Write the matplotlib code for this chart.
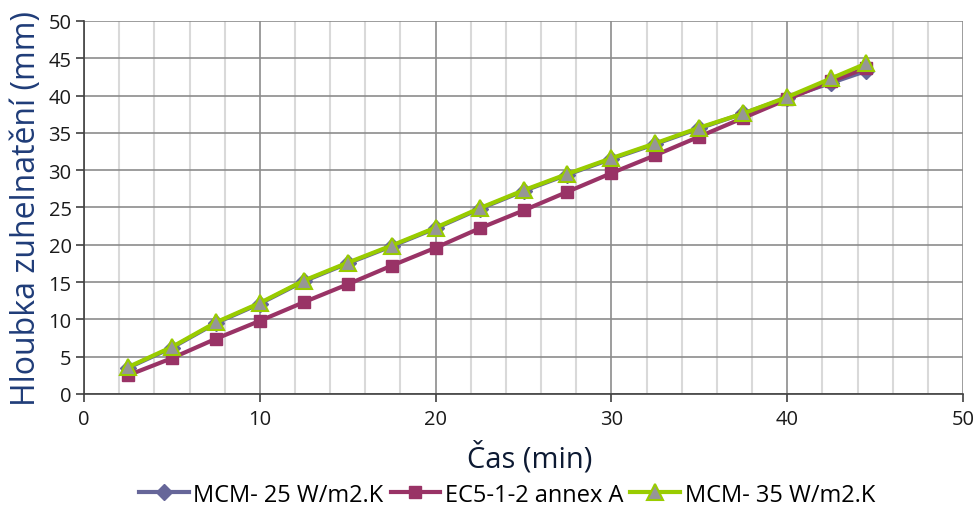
import matplotlib.pyplot as plt
from matplotlib.ticker import MultipleLocator

# charring depth over time
time_min = [2.5, 5, 7.5, 10, 12.5, 15, 17.5, 20, 22.5, 25, 27.5, 30, 32.5, 35, 37.5, 40, 42.5, 44.5]
mcm_25 = [3.5, 6.2, 9.5, 12.1, 15.1, 17.5, 19.8, 22.2, 24.8, 27.2, 29.4, 31.5, 33.5, 35.6, 37.6, 39.7, 41.7, 43.3]
ec5_annex_a = [2.5, 4.8, 7.4, 9.8, 12.3, 14.7, 17.2, 19.6, 22.2, 24.6, 27.1, 29.6, 32.0, 34.5, 37.0, 39.5, 41.9, 43.7]
mcm_35 = [3.6, 6.3, 9.6, 12.2, 15.2, 17.6, 19.9, 22.3, 24.9, 27.3, 29.5, 31.6, 33.6, 35.7, 37.6, 39.8, 42.3, 44.3]

plt.rcParams["font.family"] = ["Open Sans", "DejaVu Sans"]

fig = plt.figure(figsize=(9.77, 5.10), dpi=100)
ax = fig.add_axes([0.086, 0.2255, 0.8997, 0.7315])

ax.plot(time_min, mcm_25, color="#666699", lw=3, marker="D", ms=8,
        mfc="#666699", mec="#666699", label="MCM- 25 W/m2.K", zorder=3)
ax.plot(time_min, ec5_annex_a, color="#993366", lw=3, marker="s", ms=8,
        mfc="#993366", mec="#993366", label="EC5-1-2 annex A", zorder=4)
ax.plot(time_min, mcm_35, color="#99CC00", lw=3, marker="^", ms=11,
        mfc="#969696", mec="#99CC00", mew=1.5, label="MCM- 35 W/m2.K", zorder=5)

ax.set_xlim(0, 50)
ax.set_ylim(0, 50)
ax.xaxis.set_major_locator(MultipleLocator(10))
ax.xaxis.set_minor_locator(MultipleLocator(2))
ax.yaxis.set_major_locator(MultipleLocator(5))

ax.grid(which="minor", axis="x", color="#D9D9D9", lw=1.5, zorder=0)
ax.grid(which="major", axis="x", color="#8C8C8C", lw=1.2, zorder=1)
ax.grid(which="major", axis="y", color="#8C8C8C", lw=1.2, zorder=1)
ax.set_axisbelow(True)

for side in ("top", "right"):
    ax.spines[side].set_visible(False)
for side in ("left", "bottom"):
    ax.spines[side].set_color("#404040")
    ax.spines[side].set_linewidth(1.2)

ax.tick_params(axis="both", which="major", direction="out", length=6, width=1.2,
               color="#404040", labelsize=14.5, labelcolor="#1a1a1a")
ax.tick_params(axis="x", which="minor", length=0)
ax.tick_params(axis="y", pad=3)
ax.tick_params(axis="x", pad=5)

ax.set_xlabel("Čas (min)", fontsize=21, color="#0d1a33")
ax.xaxis.set_label_coords(0.507, -0.125)
ax.set_ylabel("Hloubka zuhelnatění (mm)", fontsize=23, color="#1F3C78", labelpad=4)

fig.legend(*ax.get_legend_handles_labels(), loc="center", bbox_to_anchor=(0.519, 0.028),
           ncol=3, frameon=False, fontsize=17, handlelength=2.1, handletextpad=0.2,
           columnspacing=0.3, borderaxespad=0, borderpad=0)

fig.savefig("out.png", dpi=100)
